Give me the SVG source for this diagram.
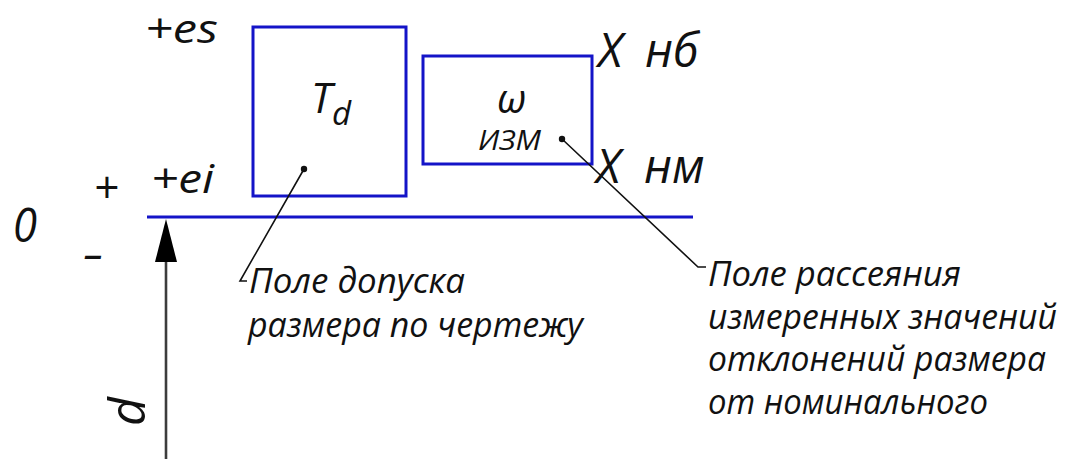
<svg xmlns="http://www.w3.org/2000/svg" width="1065" height="459" viewBox="0 0 1065 459">
<style>
.t{font-family:"Open Sans","Noto Sans","DejaVu Sans",sans-serif;font-style:italic;fill:#111;}
.box{fill:none;stroke:#1414c8;stroke-width:3;}
.lead{fill:none;stroke:#111;stroke-width:1.6;}
</style>
<rect width="1065" height="459" fill="#fff"/>
<g id="axis">
  <line x1="147" y1="217" x2="693" y2="217" stroke="#1414c8" stroke-width="3"/>
  <text class="t" x="13" y="242" font-size="47" textLength="24" lengthAdjust="spacingAndGlyphs">0</text>
  <text class="t" x="106" y="203" font-size="44" text-anchor="middle">+</text>
  <text class="t" x="93" y="269" font-size="44" text-anchor="middle" textLength="19" lengthAdjust="spacingAndGlyphs">–</text>
  <text class="t" x="145" y="43" font-size="40" textLength="73" lengthAdjust="spacingAndGlyphs">+es</text>
  <text class="t" x="151" y="193" font-size="40" textLength="63" lengthAdjust="spacingAndGlyphs">+ei</text>
</g>
<g id="node-td">
  <rect class="box" x="253" y="27" width="153" height="169"/>
  <text class="t" x="311" y="113" font-size="42">T<tspan x="332" y="125" font-size="33">d</tspan></text>
  <circle cx="304" cy="169" r="3.2" fill="#111"/>
</g>
<g id="node-w">
  <rect class="box" x="423" y="56" width="169" height="108"/>
  <text class="t" x="497" y="113" font-size="40">ω</text>
  <text class="t" x="478" y="150" font-size="28" textLength="63" lengthAdjust="spacingAndGlyphs">ИЗМ</text>
  <circle cx="562" cy="139" r="3.2" fill="#111"/>
</g>
<g id="label-x">
  <text class="t" x="598" y="67" font-size="47">X<tspan x="645">нб</tspan></text>
  <text class="t" x="596" y="183" font-size="47">X<tspan x="644">нм</tspan></text>
</g>
<g id="label-d">
  <text class="t" transform="translate(145,426) rotate(-90)" font-size="50">d</text>
</g>
<g id="connectors">
  <polyline class="lead" points="304,169 240,281 247,281"/>
  <polyline class="lead" points="562,139 698,267 706,267"/>
  <line x1="166" y1="260" x2="166" y2="459" stroke="#3c3c3c" stroke-width="2.6"/>
  <polygon points="166,219 155,262 177,262" fill="#000"/>
</g>
<g id="note-left">
  <text class="t" x="249" y="293" font-size="34" textLength="216" lengthAdjust="spacingAndGlyphs">Поле допуска</text>
  <text class="t" x="248" y="337" font-size="34" textLength="335" lengthAdjust="spacingAndGlyphs">размера по чертежу</text>
</g>
<g id="note-right">
  <text class="t" x="708" y="286" font-size="34" textLength="253" lengthAdjust="spacingAndGlyphs">Поле рассеяния</text>
  <text class="t" x="708" y="329" font-size="34" textLength="349" lengthAdjust="spacingAndGlyphs">измеренных значений</text>
  <text class="t" x="708" y="371" font-size="34" textLength="338" lengthAdjust="spacingAndGlyphs">отклонений размера</text>
  <text class="t" x="708" y="414" font-size="34" textLength="280" lengthAdjust="spacingAndGlyphs">от номинального</text>
</g>
</svg>
